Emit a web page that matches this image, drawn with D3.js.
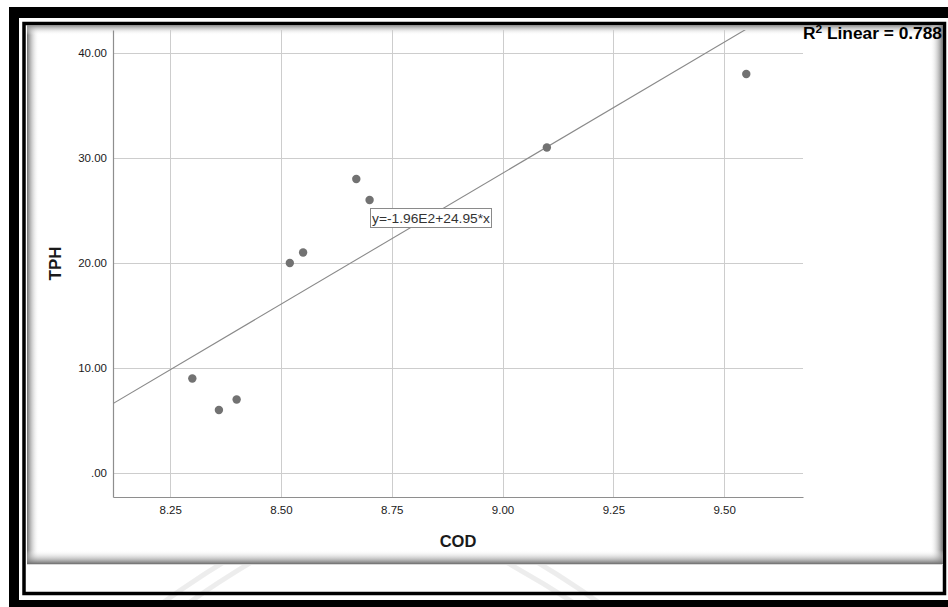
<!DOCTYPE html>
<html><head><meta charset="utf-8">
<script src="https://cdn.jsdelivr.net/npm/d3@7"></script>
<style>body{margin:0;background:#fff}svg{display:block}</style>
</head><body>
<script>
// ---- data ----
const codValues = [8.30, 8.36, 8.40, 8.52, 8.55, 8.67, 8.70, 9.10, 9.55];
const tphValues = [9, 6, 7, 20, 21, 28, 26, 31, 38];
const xTickValues = [8.25, 8.50, 8.75, 9.00, 9.25, 9.50];
const xTickLabels = ["8.25", "8.50", "8.75", "9.00", "9.25", "9.50"];
const yTickValues = [0, 10, 20, 30, 40];
const yTickLabels = [".00", "10.00", "20.00", "30.00", "40.00"];
const xDomain = [8.121, 9.678];
const yDomain = [-2.28, 42.19];
const fitIntercept = -196.0;
const fitSlope = 24.95;
const fitEquation = "y=-1.96E2+24.95*x";
const rSquaredText = "0.788";
const xTitle = "COD";
const yTitle = "TPH";

(function () {
const W = 948, H = 607;
const svg = d3.select("body").append("svg").attr("width", W).attr("height", H);
const defs = svg.append("defs");

// ---- frame ----
svg.append("rect").attr("width", W).attr("height", H).attr("fill", "#fff");
svg.append("rect").attr("x", 9).attr("y", 7).attr("width", W - 9).attr("height", 11).attr("fill", "#000");
svg.append("rect").attr("x", 9).attr("y", 7).attr("width", 10).attr("height", H - 7).attr("fill", "#000");
svg.append("rect").attr("x", 9).attr("y", 600).attr("width", W - 9).attr("height", 7).attr("fill", "#000");
svg.append("rect").attr("x", 24).attr("y", 23.5).attr("width", 920.5).attr("height", 570)
  .attr("fill", "#fff").attr("stroke", "#000").attr("stroke-width", 3.5);

// watermark (faint)
const wm = svg.append("g").attr("fill", "none").attr("stroke", "#000").attr("stroke-opacity", 0.07).attr("stroke-width", 5);
wm.append("path").attr("d", "M150,612 Q260,530 378,487 Q500,530 612,612");
wm.append("path").attr("d", "M176,612 Q275,540 378,500 Q487,545 588,612");

// panel with inset shading
const px0 = 27, py0 = 25, px1 = 943, py1 = 565;
function grad(id, x1, y1, x2, y2, c, o) {
  const g = defs.append("linearGradient").attr("id", id)
    .attr("x1", x1).attr("y1", y1).attr("x2", x2).attr("y2", y2);
  g.append("stop").attr("offset", 0).attr("stop-color", c).attr("stop-opacity", o);
  g.append("stop").attr("offset", 1).attr("stop-color", "#fff").attr("stop-opacity", 0);
}
grad("gl", 0, 0, 1, 0, "#707070", 1);
grad("gt", 0, 0, 0, 1, "#8a8a8a", 1);
grad("gr", 1, 0, 0, 0, "#707070", 1);
grad("gb", 0, 1, 0, 0, "#6e6e6e", 1);
svg.append("rect").attr("x", px0).attr("y", py0).attr("width", px1 - px0).attr("height", py1 - py0).attr("fill", "#fff");
svg.append("rect").attr("x", px0).attr("y", py0).attr("width", 12).attr("height", py1 - py0).attr("fill", "url(#gl)");
svg.append("rect").attr("x", px0).attr("y", py0).attr("width", px1 - px0).attr("height", 10).attr("fill", "url(#gt)");
svg.append("rect").attr("x", px1 - 13).attr("y", py0).attr("width", 13).attr("height", py1 - py0).attr("fill", "url(#gr)");
svg.append("rect").attr("x", px0).attr("y", py1 - 15).attr("width", px1 - px0).attr("height", 14).attr("fill", "url(#gb)");
svg.append("line").attr("x1", px0).attr("x2", px1).attr("y1", py1 - 0.5).attr("y2", py1 - 0.5).attr("stroke", "#d8d8d8");

// ---- chart ----
const pLeft = 113, pRight = 803, pTop = 30, pBottom = 497;
const x = d3.scaleLinear().domain(xDomain).range([pLeft, pRight]);
const y = d3.scaleLinear().domain(yDomain).range([pBottom, pTop]);

const font = "'Liberation Sans', Arial, Helvetica, sans-serif";

// gridlines
const grid = svg.append("g").attr("stroke", "#cdcdcd").attr("stroke-width", 1).attr("shape-rendering", "crispEdges");
grid.selectAll(".vx").data(xTickValues).join("line")
  .attr("x1", d => Math.round(x(d)) + 0.5).attr("x2", d => Math.round(x(d)) + 0.5)
  .attr("y1", pTop).attr("y2", pBottom);
grid.selectAll(".hy").data(yTickValues).join("line")
  .attr("y1", d => Math.round(y(d)) + 0.5).attr("y2", d => Math.round(y(d)) + 0.5)
  .attr("x1", pLeft).attr("x2", pRight);

// axes
const xAxis = d3.axisBottom(x).tickValues(xTickValues).tickFormat((d, i) => xTickLabels[i])
  .tickSize(0).tickPadding(9);
const yAxis = d3.axisLeft(y).tickValues(yTickValues).tickFormat((d, i) => yTickLabels[i])
  .tickSize(0).tickPadding(6);
const gx = svg.append("g").attr("transform", `translate(0,${pBottom})`).call(xAxis);
const gy = svg.append("g").attr("transform", `translate(${pLeft},0)`).call(yAxis);
[gx, gy].forEach(g => {
  g.select(".domain").attr("stroke", "#8e8e8e").attr("stroke-width", 1.2);
  g.selectAll("text").attr("font-family", font).attr("font-size", "11.5px").attr("fill", "#1a1a1a");
});

// regression line (clipped to plot area)
defs.append("clipPath").attr("id", "plotclip").append("rect")
  .attr("x", pLeft).attr("y", pTop).attr("width", pRight - pLeft).attr("height", pBottom - pTop);
const fitLine = d3.line().x(d => x(d)).y(d => y(fitIntercept + fitSlope * d));
svg.append("path").datum(xDomain).attr("d", fitLine)
  .attr("clip-path", "url(#plotclip)").attr("fill", "none")
  .attr("stroke", "#8a8a8a").attr("stroke-width", 1.1);

// points
svg.append("g").selectAll("circle").data(codValues).join("circle")
  .attr("cx", d => x(d)).attr("cy", (d, i) => y(tphValues[i])).attr("r", 4.2)
  .attr("fill", "#727272");

// equation label
const eq = svg.append("g");
eq.append("rect").attr("x", 370.5).attr("y", 208.5).attr("width", 121).attr("height", 19)
  .attr("fill", "#fff").attr("stroke", "#8a8a8a").attr("stroke-width", 1);
eq.append("text").attr("x", 372).attr("y", 222.5).attr("font-family", font).attr("font-size", "12.5px")
  .attr("fill", "#333").attr("textLength", 118).attr("lengthAdjust", "spacingAndGlyphs").text(fitEquation);

// R squared label
const rt = svg.append("text").attr("x", 803).attr("y", 39).attr("font-family", font)
  .attr("font-size", "16px").attr("font-weight", "bold").attr("fill", "#000")
  .attr("textLength", 139).attr("lengthAdjust", "spacingAndGlyphs");
rt.append("tspan").text("R");
rt.append("tspan").attr("font-size", "11px").attr("dy", -6).text("2");
rt.append("tspan").attr("dy", 6).text(" Linear = " + rSquaredText);

// axis titles
svg.append("text").attr("x", (pLeft + pRight) / 2).attr("y", 547).attr("text-anchor", "middle")
  .attr("font-family", font).attr("font-size", "16.5px").attr("font-weight", "bold").attr("fill", "#1a1a1a")
  .text(xTitle);
svg.append("text").attr("transform", `translate(61,${(pTop + pBottom) / 2}) rotate(-90)`)
  .attr("text-anchor", "middle").attr("font-family", font).attr("font-size", "17px")
  .attr("font-weight", "bold").attr("fill", "#1a1a1a").text(yTitle);
})();
</script>
</body></html>
